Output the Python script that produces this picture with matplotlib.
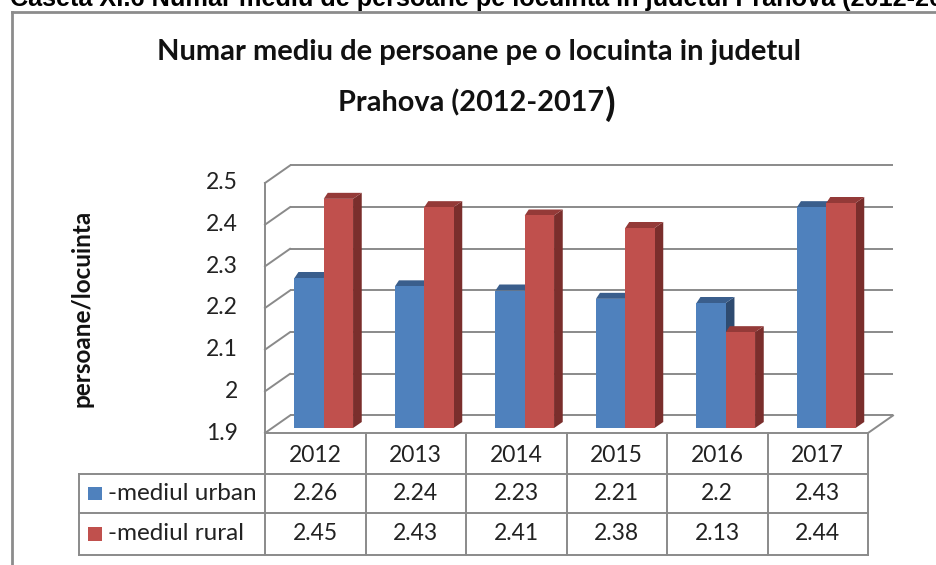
import matplotlib
matplotlib.use("Agg")
import matplotlib.pyplot as plt
from matplotlib.patches import Polygon, Rectangle
from matplotlib.lines import Line2D

years = ["2012", "2013", "2014", "2015", "2016", "2017"]
urban = [2.26, 2.24, 2.23, 2.21, 2.2, 2.43]
rural = [2.45, 2.43, 2.41, 2.38, 2.13, 2.44]
series_names = ["-mediul urban", "-mediul rural"]
y_ticks = [1.9, 2.0, 2.1, 2.2, 2.3, 2.4, 2.5]
y_tick_labels = ["1.9", "2", "2.1", "2.2", "2.3", "2.4", "2.5"]

W, H = 936, 565
DPI = 100
FONT = "Lato"
GRID = "#8a8a8a"
TXT = "#222222"
BLUE = ("#4F81BD", "#3A5E8C", "#2E4B70")   # front, top, side
RED = ("#C0504D", "#943A38", "#7A2E2C")

fig = plt.figure(figsize=(W / DPI, H / DPI), dpi=DPI)
fig.patch.set_facecolor("white")

def fx(px):
    return px / W

def fy(py):
    return 1 - py / H

# plot area (front edge of left wall / floor) in pixels
L, R, T, B = 265, 868, 183, 433
ax = fig.add_axes([fx(L), fy(B), fx(R - L), (B - T) / H])
ax.set_xlim(0, len(years))
ax.set_ylim(1.9, 2.5)
ax.axis("off")

ux = (R - L) / len(years)          # px per category
uy = (B - T) / (2.5 - 1.9)         # px per unit value

def dxp(p):
    return p / ux

def dyp(p):
    return p / uy

# back wall offset
bx, by = dxp(25), dyp(17.5)
n = len(years)
lw = 1.4
for v in y_ticks:
    ax.plot([bx, n + bx], [v + by, v + by], color=GRID, lw=lw, clip_on=False, zorder=1,
            solid_capstyle="butt")
    ax.plot([0, bx], [v, v + by], color=GRID, lw=lw, clip_on=False, zorder=1)
# front left edge and floor
ax.plot([0, 0], [1.9, 2.5], color=GRID, lw=lw, clip_on=False, zorder=1)
ax.plot([0, n], [1.9, 1.9], color=GRID, lw=lw, clip_on=False, zorder=1)
ax.plot([n, n + bx], [1.9, 1.9 + by], color=GRID, lw=lw, clip_on=False, zorder=1)

# tick labels
for v, lab in zip(y_ticks, y_tick_labels):
    ax.text(dxp(238 - L), v, lab, ha="right", va="center", fontsize=16.5,
            family=FONT, color=TXT, clip_on=False)

# bars
bw = dxp(29.3)
ox, oy = dxp(8.5), dyp(5)
sdx, sdy, ldx = dxp(8.7), dyp(6), dxp(4)
base = 1.9 + oy
z = 3
for i in range(n):
    c = i + 0.5 + ox
    for k, (val, cols) in enumerate([(urban[i], BLUE), (rural[i], RED)]):
        x0 = c - bw + k * bw
        x1 = x0 + bw
        top = val + oy
        side = Polygon([(x1, base), (x1, top), (x1 + sdx, top + sdy), (x1 + sdx, base + sdy)],
                       closed=True, facecolor=cols[2], edgecolor="none", zorder=z, clip_on=False)
        topf = Polygon([(x0, top), (x1, top), (x1 + sdx, top + sdy), (x0 + ldx, top + sdy)],
                       closed=True, facecolor=cols[1], edgecolor="none", zorder=z, clip_on=False)
        ax.add_patch(side)
        ax.add_patch(topf)
        ax.bar(x0, top - base, bottom=base, width=bw, align="edge", color=cols[0],
               zorder=z + 0.5, clip_on=False)
        z += 1

# data table
TL, TT, TB = 79, 433, 555
tax = fig.add_axes([fx(TL), fy(TB), fx(R - TL), (TB - TT) / H])
legw = (L - TL) / ux
tax.set_xlim(-legw, n)
tax.set_ylim(3, 0)
tax.axis("off")
rows = [0, 41 / 40.67, 80 / 40.67, 3]
for xv in range(n + 1):
    tax.plot([xv, xv], [0, 3], color=GRID, lw=lw, clip_on=False)
tax.plot([-legw, -legw], [rows[1], 3], color=GRID, lw=lw, clip_on=False)
for yv in rows[1:]:
    tax.plot([-legw, n], [yv, yv], color=GRID, lw=lw, clip_on=False)
for i, yr in enumerate(years):
    tax.text(i + 0.5, (rows[0] + rows[1]) / 2 + 0.05, yr, ha="center", va="center",
             fontsize=16.5, family=FONT, color=TXT)
for r, (vals, cols, name) in enumerate([(urban, BLUE, series_names[0]),
                                        (rural, RED, series_names[1])]):
    yc = (rows[r + 1] + rows[r + 2]) / 2
    for i, v in enumerate(vals):
        tax.text(i + 0.5, yc, f"{v:g}", ha="center", va="center", fontsize=16.5,
                 family=FONT, color=TXT)
    sq = 14 / ux
    tax.add_patch(Rectangle((-legw + 9 / ux, yc - 0.17), sq, 0.33, facecolor=cols[0],
                            edgecolor="none", clip_on=False))
    tax.text(-legw + 29 / ux, yc, name, ha="left", va="center", fontsize=17.5,
             family=FONT, color=TXT)

# titles and labels
fig.text(fx(479), fy(52), "Numar mediu de persoane pe o locuinta in judetul", ha="center",
         va="center", fontsize=21, fontweight="bold", family=FONT, color="#111111")
fig.text(fx(604), fy(103), "Prahova (2012-2017", ha="right", va="center", fontsize=20.8,
         fontweight="bold", family=FONT, color="#111111")
fig.text(fx(605), fy(104), ")", ha="left", va="center", fontsize=28,
         fontweight="bold", family=FONT, color="#111111")
fig.text(fx(82), fy(308), "persoane/locuinta", ha="center", va="center", rotation=90,
         fontsize=17.5, fontweight="bold", family=FONT, color="#111111")

# cut-off caption above the chart frame
fig.text(fx(10), fy(6), "Caseta XI.6 Numar mediu de persoane pe locuinta in judetul Prahova (2012-2017)",
         ha="left", va="baseline", fontsize=18.2, fontweight="bold",
         family="Liberation Sans", color="black")

# chart frame
fig.add_artist(Line2D([fx(12), fx(12)], [fy(12), 0], color="#8c8c8c", lw=2, transform=fig.transFigure))
fig.add_artist(Line2D([fx(12), 1], [fy(12), fy(12)], color="#8c8c8c", lw=2, transform=fig.transFigure))

fig.savefig("out.png", dpi=DPI)
